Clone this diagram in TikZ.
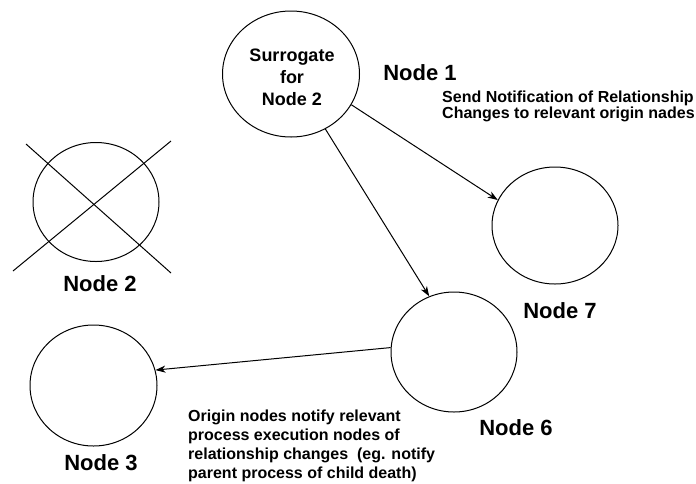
\documentclass[tikz,border=0pt]{standalone}
\usepackage{fontspec}
\setmainfont{Liberation Sans}
\usetikzlibrary{shapes.geometric,arrows.meta}
\begin{document}
\begin{tikzpicture}[x=1pt,y=-1pt,
  proc/.style={ellipse, draw, line width=1pt, inner sep=0pt},
  nodename/.style={font=\fontsize{22}{26}\selectfont\bfseries, inner sep=0pt, anchor=base},
  note/.style={font=\fontsize{16}{16}\selectfont\bfseries, align=left, inner sep=0pt, anchor=north west},
  cross/.style={line width=1pt},
  msg/.style={line width=1pt, -{Stealth[length=10pt,width=7pt,inset=3pt]}}]
  \useasboundingbox (0,0) rectangle (696,483);

  % process nodes
  \node[proc, minimum width=137pt, minimum height=126pt] (s) at (291,74) {};
  \node[font=\fontsize{18}{22}\selectfont\bfseries, align=center, inner sep=0pt, anchor=north]
    (stext) at (292,49) {Surrogate\\for\\Node 2};
  \node[proc, minimum width=126pt, minimum height=119pt] (n2) at (96,202) {};
  \node[proc, minimum width=127pt, minimum height=121pt] (n3) at (93.5,385.5) {};
  \node[proc, minimum width=126pt, minimum height=120pt] (n6) at (454,352) {};
  \node[proc, minimum width=126pt, minimum height=117pt] (n7) at (555,225.5) {};

  % node names
  \node[nodename] (l1) at (420,80) {Node 1};
  \node[nodename] (l2) at (100,291) {Node 2};
  \node[nodename] (l3) at (101,470) {Node 3};
  \node[nodename] (l6) at (516,435) {Node 6};
  \node[nodename] (l7) at (560,318) {Node 7};

  % Node 2 is crossed out
  \coordinate (c1a) at (26,144);
  \coordinate (c1b) at (171,273);
  \coordinate (c2a) at (13,271);
  \coordinate (c2b) at (171,141);
  \draw[cross] (c1a) -- (c1b);
  \draw[cross] (c2a) -- (c2b);

  % messages
  \draw[msg] (s.-27) -- (n7.156);
  \draw[msg] (s.-58) -- (n6.114);
  \draw[msg] (n6.176) -- (n3.14);

  % annotations
  \node[note] (t1) at (442,90.5) {Send Notification of Relationship\\Changes to relevant origin nades};
  \node[note, font=\fontsize{16}{19}\selectfont\bfseries] (t2) at (188,409.5)
    {Origin nodes notify relevant\\process execution nodes of\\relationship changes\ \ (eg. notify\\parent process of child death)};
\end{tikzpicture}
\end{document}
